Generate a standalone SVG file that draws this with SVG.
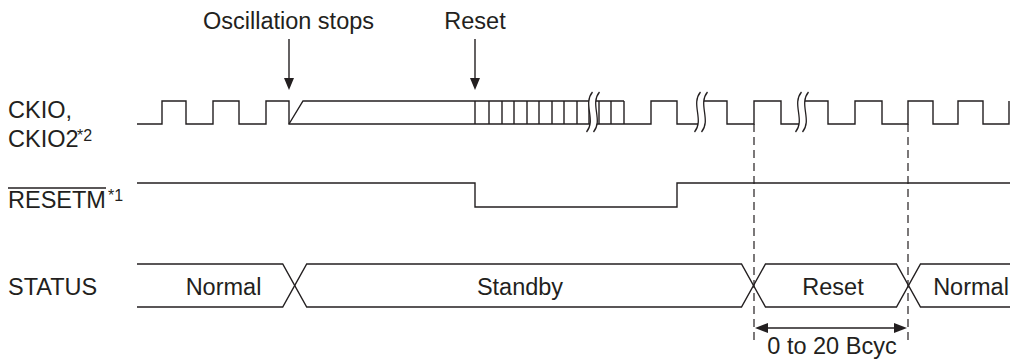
<svg xmlns="http://www.w3.org/2000/svg" width="1018" height="362" viewBox="0 0 1018 362">
<style>
  .w{fill:none;stroke:#231f20;stroke-width:1.4;stroke-linejoin:miter}
  .d{fill:none;stroke:#231f20;stroke-width:1.2;stroke-dasharray:8 5}
  .t{font-family:"Liberation Sans",Arial,sans-serif;font-size:23.5px;fill:#231f20}
  .s{font-family:"Liberation Sans",Arial,sans-serif;font-size:16px;fill:#231f20}
  .m{text-anchor:middle}
  .brk{fill:#fff;stroke:none}
  .bl{fill:none;stroke:#231f20;stroke-width:1.3}
  .ah{fill:#231f20;stroke:none}
</style>
<rect width="1018" height="362" fill="#fff"/>

<g id="labels">
  <text class="t m" x="288.5" y="29">Oscillation stops</text>
  <text class="t m" x="475" y="29">Reset</text>
  <text class="t" x="8" y="118">CKIO,</text>
  <text class="t" x="8" y="147">CKIO2</text>
  <text class="s" x="77" y="141">*2</text>
  <text class="t" x="8" y="208">RESETM</text>
  <line class="w" x1="8" y1="188" x2="106" y2="188"/>
  <text class="s" x="108" y="201">*1</text>
  <text class="t" x="8" y="295">STATUS</text>
</g>

<g id="event-arrows">
  <line class="w" x1="289" y1="39" x2="289" y2="79"/>
  <polygon class="ah" points="284,78 294,78 289,90"/>
  <line class="w" x1="475" y1="39" x2="475" y2="79"/>
  <polygon class="ah" points="470,78 480,78 475,90"/>
</g>

<g id="ckio">
  <path class="w" d="M137,124 H162 V101 H186 V124 H213 V101 H239 V124 H266 V101 H289 V124 H651 V101 H677 V124 H701 V101 H727 V124 H754 V101 H781 V124 H802 V101 H828 V124 H855 V101 H882 V124 H908 V101 H933 V124 H958 V101 H983 V124 H1009 V101"/>
  <path class="w" d="M289,124 L303,101 H624"/>
  <path class="w" d="M475,101 V124 M489,101 V124 M502,101 V124 M514,101 V124 M527,101 V124 M539,101 V124 M552,101 V124 M564,101 V124 M577,101 V124 M589,101 V124 M599,101 V124 M611,101 V124 M624,101 V124"/>
  <g id="break1">
    <path class="brk" d="M592.5,92 C582.5,104 596.5,120 586.5,132 L593.5,132 C603.5,120 589.5,104 599.5,92 Z"/>
    <path class="bl" d="M592.5,92 C582.5,104 596.5,120 586.5,132 M599.5,92 C589.5,104 603.5,120 593.5,132"/>
  </g>
  <g id="break2">
    <path class="brk" d="M700.5,92 C690.5,104 704.5,120 694.5,132 L701.5,132 C711.5,120 697.5,104 707.5,92 Z"/>
    <path class="bl" d="M700.5,92 C690.5,104 704.5,120 694.5,132 M707.5,92 C697.5,104 711.5,120 701.5,132"/>
  </g>
  <g id="break3">
    <path class="brk" d="M801.5,92 C791.5,104 805.5,120 795.5,132 L802.5,132 C812.5,120 798.5,104 808.5,92 Z"/>
    <path class="bl" d="M801.5,92 C791.5,104 805.5,120 795.5,132 M808.5,92 C798.5,104 812.5,120 802.5,132"/>
  </g>
</g>

<g id="resetm">
  <path class="w" d="M137,183 H475 V207 H677 V183 H1010"/>
</g>

<g id="status">
  <path class="w" d="M137,264 H282.7 L306.7,307 H741.5 L765.5,264 H896.5 L920.5,307 H1010"/>
  <path class="w" d="M137,307 H282.7 L306.7,264 H741.5 L765.5,307 H896.5 L920.5,264 H1010"/>
  <text class="t m" x="223.5" y="295">Normal</text>
  <text class="t m" x="520" y="295">Standby</text>
  <text class="t m" x="833" y="295">Reset</text>
  <text class="t m" x="971" y="295">Normal</text>
</g>

<g id="connectors">
  <line class="d" x1="754" y1="124" x2="754" y2="340"/>
  <line class="d" x1="908" y1="124" x2="908" y2="340"/>
  <line class="w" x1="766" y1="328" x2="896" y2="328"/>
  <polygon class="ah" points="755,328 768,323 768,333"/>
  <polygon class="ah" points="907,328 894,323 894,333"/>
  <text class="t m" x="832" y="354">0 to 20 Bcyc</text>
</g>
</svg>
